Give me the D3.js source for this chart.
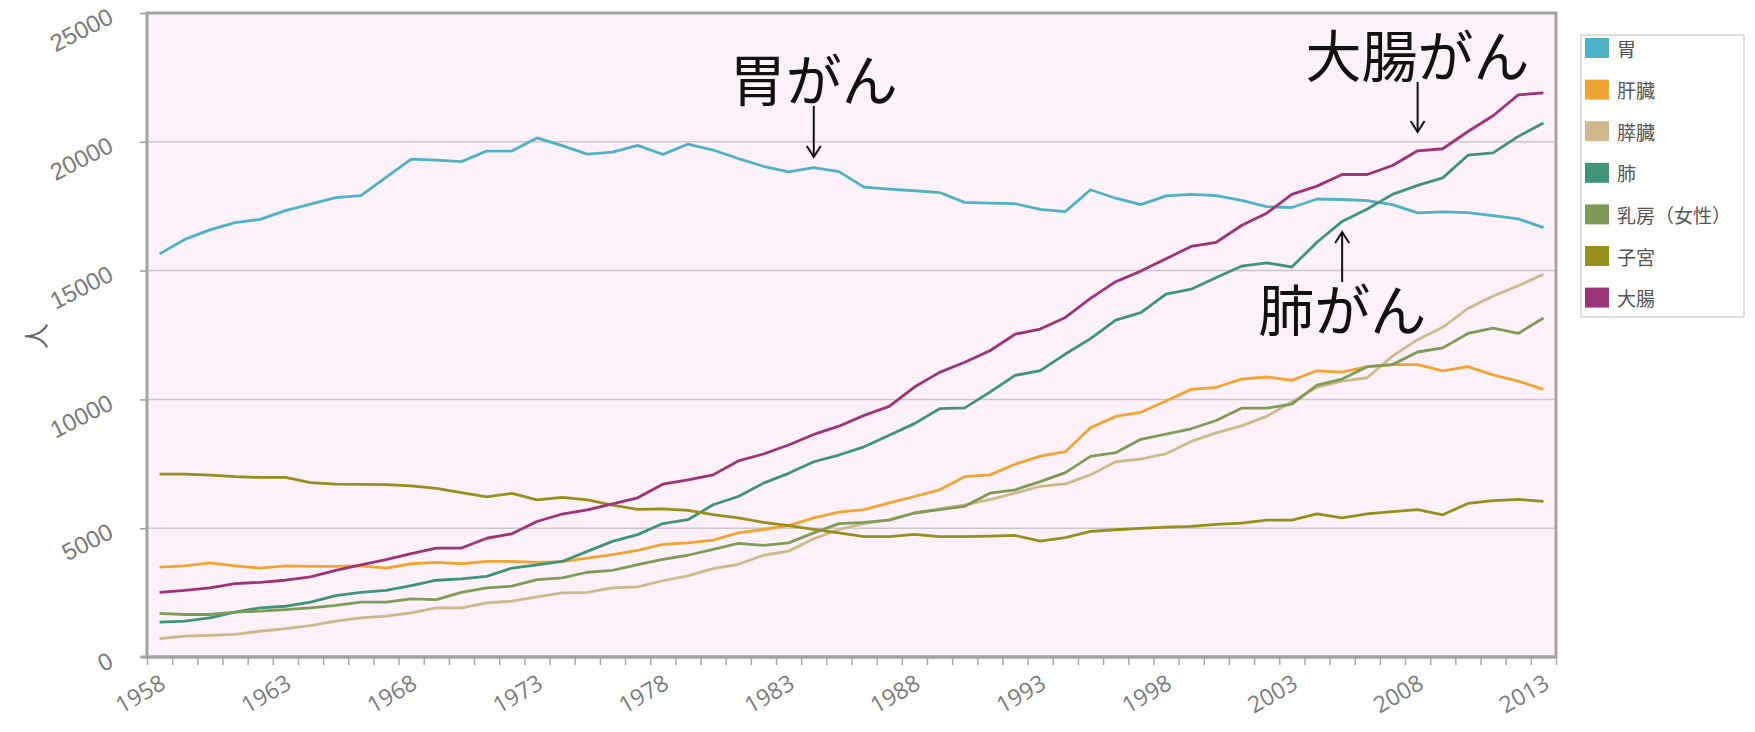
<!DOCTYPE html>
<html>
<head>
<meta charset="utf-8">
<script src="https://cdn.jsdelivr.net/npm/d3@7"></script>
<style>
  body { margin: 0; background: #fff; }
  svg { display: block; font-family: "Open Sans", "Noto Sans CJK JP", sans-serif; }
</style>
</head>
<body>
<div id="chart"></div>
<script>
const width = 1755;
const height = 732;

// categories (years)
const years = [1958, 1959, 1960, 1961, 1962, 1963, 1964, 1965, 1966, 1967,
  1968, 1969, 1970, 1971, 1972, 1973, 1974, 1975, 1976, 1977,
  1978, 1979, 1980, 1981, 1982, 1983, 1984, 1985, 1986, 1987,
  1988, 1989, 1990, 1991, 1992, 1993, 1994, 1995, 1996, 1997,
  1998, 1999, 2000, 2001, 2002, 2003, 2004, 2005, 2006, 2007,
  2008, 2009, 2010, 2011, 2012, 2013];

// series values (deaths, 人)
const stomach = [15650, 16210, 16580, 16860, 16990, 17330, 17580, 17830, 17910, 18620,
  19330, 19290, 19230, 19640, 19640, 20150, 19850, 19520, 19600, 19860,
  19510, 19910, 19680, 19350, 19050, 18830, 19000, 18840, 18240, 18160,
  18100, 18030, 17650, 17620, 17600, 17380, 17290, 18140, 17810, 17560,
  17900, 17960, 17910, 17730, 17480, 17450, 17780, 17760, 17720, 17560,
  17240, 17280, 17250, 17130, 17010, 16670];
const liver = [3490, 3540, 3650, 3540, 3450, 3540, 3520, 3520, 3540, 3450,
  3620, 3670, 3620, 3710, 3710, 3670, 3700, 3840, 3970, 4140,
  4370, 4430, 4540, 4820, 4950, 5100, 5400, 5620, 5720, 5980,
  6230, 6490, 7000, 7070, 7480, 7800, 7970, 8900, 9340, 9500,
  9940, 10390, 10470, 10790, 10870, 10740, 11110, 11060, 11270, 11350,
  11350, 11110, 11270, 10950, 10710, 10390];
const pancreas = [710, 810, 840, 880, 1000, 1100, 1220, 1390, 1520, 1590,
  1710, 1910, 1910, 2100, 2170, 2330, 2490, 2510, 2680, 2720,
  2960, 3150, 3430, 3600, 3950, 4110, 4590, 4950, 5180, 5330,
  5590, 5750, 5910, 6110, 6360, 6620, 6720, 7070, 7580, 7680,
  7890, 8370, 8700, 8970, 9340, 9900, 10470, 10710, 10840, 11680,
  12320, 12800, 13530, 14010, 14410, 14860];
const lung = [1350, 1390, 1520, 1740, 1910, 1970, 2130, 2380, 2510, 2590,
  2770, 2980, 3030, 3130, 3450, 3580, 3710, 4100, 4490, 4750,
  5180, 5330, 5910, 6230, 6750, 7130, 7580, 7840, 8160, 8610,
  9060, 9640, 9670, 10280, 10930, 11120, 11760, 12360, 13080, 13370,
  14090, 14280, 14730, 15170, 15300, 15140, 16100, 16910, 17390, 17960,
  18310, 18600, 19480, 19570, 20210, 20730];
const breast = [1690, 1650, 1650, 1740, 1780, 1840, 1910, 2000, 2130, 2130,
  2260, 2230, 2510, 2680, 2750, 3000, 3070, 3290, 3360, 3590,
  3790, 3950, 4180, 4410, 4330, 4430, 4820, 5180, 5230, 5310,
  5590, 5720, 5850, 6360, 6490, 6810, 7160, 7790, 7930, 8450,
  8650, 8860, 9180, 9660, 9660, 9820, 10550, 10790, 11270, 11350,
  11840, 12000, 12560, 12770, 12560, 13160];
const uterus = [7100, 7100, 7060, 7000, 6970, 6970, 6770, 6710, 6700, 6690,
  6640, 6550, 6380, 6220, 6350, 6100, 6200, 6100, 5900, 5730,
  5750, 5690, 5530, 5400, 5230, 5100, 4950, 4820, 4670, 4670,
  4760, 4670, 4670, 4690, 4720, 4500, 4630, 4880, 4940, 4990,
  5040, 5070, 5150, 5200, 5310, 5310, 5560, 5400, 5560, 5640,
  5720, 5520, 5960, 6070, 6120, 6040];
const colon = [2510, 2590, 2680, 2850, 2900, 2980, 3110, 3360, 3580, 3780,
  4010, 4230, 4230, 4610, 4780, 5260, 5550, 5710, 5940, 6180,
  6710, 6880, 7070, 7610, 7880, 8230, 8640, 8960, 9380, 9730,
  10480, 11050, 11440, 11890, 12530, 12730, 13180, 13920, 14570, 14980,
  15460, 15940, 16100, 16750, 17230, 17960, 18280, 18730, 18730, 19080,
  19650, 19730, 20400, 21010, 21820, 21900];

const seriesNames = ["胃", "肝臓", "膵臓", "肺", "乳房（女性）", "子宮", "大腸"];
const seriesValues = [stomach, liver, pancreas, lung, breast, uterus, colon];
const seriesColors = ["#4fb1c6", "#f0a431", "#cdb98b", "#3f9479", "#7f9b58", "#988f1a", "#9d3379"];

// tick labels
const yTicks = [0, 5000, 10000, 15000, 20000, 25000];
const xLabelYears = [1958, 1963, 1968, 1973, 1978, 1983, 1988, 1993, 1998, 2003, 2008, 2013];
const yTitle = "人";

// annotations: text and the year the arrow points at
const noteTexts = ["胃がん", "大腸がん", "肺がん"];
const noteYears = [1984, 2008, 2005];

const plot = { left: 147, right: 1556, top: 13, bottom: 657 };

const svg = d3.select("#chart")
  .append("svg")
  .attr("width", width)
  .attr("height", height);

const x = d3.scaleLinear()
  .domain([years[0] - 0.5, years[years.length - 1] + 0.5])
  .range([plot.left, plot.right]);

const y = d3.scaleLinear()
  .domain([0, 25000])
  .range([plot.bottom, plot.top]);

// plot background
svg.append("rect")
  .attr("x", plot.left)
  .attr("y", plot.top)
  .attr("width", plot.right - plot.left)
  .attr("height", plot.bottom - plot.top)
  .attr("fill", "#fcf0f9");

// gridlines
svg.append("g")
  .selectAll("line")
  .data(yTicks.slice(1, -1))
  .join("line")
  .attr("x1", plot.left)
  .attr("x2", plot.right)
  .attr("y1", d => y(d))
  .attr("y2", d => y(d))
  .attr("stroke", "#cbc5cb")
  .attr("stroke-width", 1.5);

// y axis
const yAxis = svg.append("g")
  .attr("transform", `translate(${plot.left},0)`)
  .call(d3.axisLeft(y).tickValues(yTicks).tickSize(7).tickFormat(d => d));
yAxis.select(".domain").remove();
yAxis.selectAll(".tick line").attr("stroke", "#9a9a9a").attr("stroke-width", 1.5);
yAxis.selectAll(".tick text")
  .attr("x", null)
  .attr("dy", null)
  .attr("transform", "translate(-36,1) rotate(-27)")
  .attr("dominant-baseline", "central")
  .style("font-size", "24px")
  .style("fill", "#7a7a7a");

// x axis minor ticks at category boundaries
const xBounds = years.map(d => d - 0.5).concat([years[years.length - 1] + 0.5]);
const xAxis = svg.append("g")
  .attr("transform", `translate(0,${plot.bottom})`)
  .call(d3.axisBottom(x).tickValues(xBounds).tickSize(8).tickFormat(""));
xAxis.select(".domain").remove();
xAxis.selectAll(".tick line").attr("stroke", "#a8a8a8").attr("stroke-width", 1.5);

// x labels
svg.append("g")
  .selectAll("text")
  .data(xLabelYears)
  .join("text")
  .attr("transform", d => `translate(${x(d) + 3},${plot.bottom + 23}) rotate(-30)`)
  .attr("text-anchor", "end")
  .attr("dominant-baseline", "central")
  .style("font-size", "23px")
  .style("fill", "#7a7a7a")
  .text(d => d);

// frame
svg.append("rect")
  .attr("x", plot.left)
  .attr("y", plot.top)
  .attr("width", plot.right - plot.left)
  .attr("height", plot.bottom - plot.top)
  .attr("fill", "none")
  .attr("stroke", "#a3a3a3")
  .attr("stroke-width", 3);
svg.append("line")
  .attr("x1", plot.left - 6).attr("x2", plot.right)
  .attr("y1", plot.bottom).attr("y2", plot.bottom)
  .attr("stroke", "#a3a3a3").attr("stroke-width", 3);

// y title
svg.append("text")
  .attr("transform", "translate(34,336) rotate(-90)")
  .attr("text-anchor", "middle")
  .attr("dominant-baseline", "central")
  .style("font-family", "'Noto Sans CJK JP', sans-serif")
  .style("font-size", "26px")
  .style("fill", "#666")
  .text(yTitle);

// lines
const line = d3.line()
  .x((d, i) => x(years[i]))
  .y(d => y(d));

svg.append("g")
  .selectAll("path")
  .data(seriesValues)
  .join("path")
  .attr("d", d => line(d))
  .attr("fill", "none")
  .attr("stroke", (d, i) => seriesColors[i])
  .attr("stroke-width", 2.8)
  .attr("stroke-linejoin", "round");

// legend
const legend = svg.append("g");
legend.append("rect")
  .attr("x", 1581)
  .attr("y", 35)
  .attr("width", 163)
  .attr("height", 282)
  .attr("fill", "#fff")
  .attr("stroke", "#dedede")
  .attr("stroke-width", 2);

const legendRows = legend.selectAll("g")
  .data(seriesNames)
  .join("g")
  .attr("transform", (d, i) => `translate(1585,${38 + i * 41.6})`);
legendRows.append("rect")
  .attr("width", 24)
  .attr("height", 20)
  .attr("fill", (d, i) => seriesColors[i]);
legendRows.append("text")
  .attr("x", 32)
  .attr("y", 10)
  .attr("dominant-baseline", "central")
  .style("font-family", "'Noto Sans CJK JP', sans-serif")
  .style("font-size", "19px")
  .style("fill", "#555")
  .text(d => d);

// annotations
const noteLayout = [
  { ty: 76, a0: 106, a1: 157, dir: "down" },
  { ty: 52, a0: 82, a1: 132, dir: "down" },
  { ty: 306, a0: 282, a1: 232, dir: "up" }
];

const notes = svg.append("g");
noteTexts.forEach((t, i) => {
  const cx = x(noteYears[i]);
  const l = noteLayout[i];
  notes.append("text")
    .attr("x", cx)
    .attr("y", l.ty)
    .attr("text-anchor", "middle")
    .attr("dominant-baseline", "central")
    .style("font-family", "'Noto Sans CJK JP', sans-serif")
    .style("font-size", "56px")
    .style("fill", "#111")
    .text(t);
  notes.append("line")
    .attr("x1", cx).attr("x2", cx)
    .attr("y1", l.a0).attr("y2", l.a1)
    .attr("stroke", "#111")
    .attr("stroke-width", 2);
  const s = l.dir === "down" ? 1 : -1;
  notes.append("path")
    .attr("d", `M${cx - 7},${l.a1 - s * 11} L${cx},${l.a1} L${cx + 7},${l.a1 - s * 11}`)
    .attr("fill", "none")
    .attr("stroke", "#111")
    .attr("stroke-width", 2);
});
</script>
</body>
</html>
